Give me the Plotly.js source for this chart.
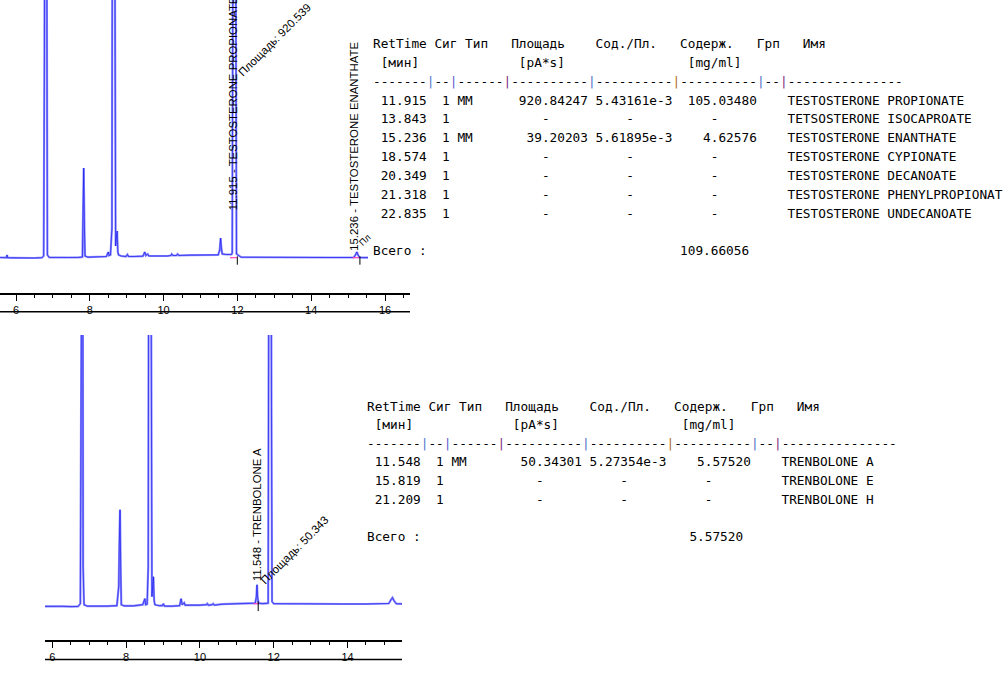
<!DOCTYPE html>
<html><head><meta charset="utf-8">
<script src="https://cdn.plot.ly/plotly-3.0.1.min.js"></script>
<style>html,body{margin:0;padding:0;background:#fff}</style>
</head><body><div id="chart" style="width:1003px;height:687px"></div>
<script>
// ---------- chromatogram 1 (testosterone esters) ----------
const topTime = [5.55,5.62,5.70,5.745,5.757,5.77,5.9,6.1,6.3,6.5,6.7,6.75,6.77,6.79,6.82,6.835,6.85,6.9,7.1,7.4,7.7,7.8,7.815,7.835,7.855,7.87,7.95,8.2,8.45,8.49,8.5,8.52,8.56,8.6,8.62,8.66,8.685,8.70,8.72,8.74,8.76,8.78,8.85,8.98,9.02,9.05,9.2,9.44,9.49,9.52,9.55,9.57,9.6,9.8,10.1,10.2,10.22,10.25,10.35,10.38,10.41,10.7,11.0,11.3,11.48,11.52,11.545,11.565,11.59,11.7,11.84,11.86,11.875,11.895,11.935,11.955,11.975,12.1,12.6,13.2,13.8,14.4,15.0,15.15,15.2,15.236,15.27,15.31,15.4,15.54];
const topSignal = [0.5,0.2,0.4,0.3,3,0.3,0.2,0,0.2,0,0.3,2,200,600,600,30,3,0.6,0.3,0.5,0.6,1,40,90,30,2,0.8,1,1.5,5,6,2.5,3,30,600,600,40,12,20,27,6,3,2,1.5,3.5,1.5,1.5,1.8,6,2.5,3.5,4,2,1.8,2,2.5,4,2.5,2.5,4,2.5,2.8,3,3,3.2,8,20,10,4,3.5,3.5,5,300,600,600,300,4,0.8,0.6,0.5,0.6,0.5,0.5,0.5,3,6,3,0.5,0.4,0.4];
const topIntegStart = [11.80, 15.12];
const topIntegEnd = [11.98, 15.30];
const topPeakMarks = [11.997, 15.32];
const topAreaLabel = ['920.539'];

// ---------- chromatogram 2 (trenbolone) ----------
const botTime = [5.80,5.95,6.1,6.3,6.5,6.7,6.76,6.78,6.80,6.82,6.835,6.86,6.95,7.2,7.5,7.75,7.8,7.815,7.835,7.855,7.87,7.95,8.2,8.45,8.49,8.51,8.53,8.57,8.6,8.62,8.66,8.685,8.70,8.72,8.74,8.76,8.78,8.9,8.98,9.01,9.04,9.25,9.45,9.49,9.52,9.55,9.575,9.6,9.8,10.0,10.18,10.2,10.23,10.33,10.36,10.39,10.6,10.8,11.1,11.4,11.5,11.53,11.548,11.565,11.59,11.7,11.85,11.865,11.88,11.92,11.94,11.955,12.0,12.4,12.8,13.3,13.9,14.5,15.0,15.12,15.18,15.22,15.26,15.32,15.48];
const botSignal = [0.3,0.5,0.2,0.4,0.1,0.3,3,300,600,600,40,2,0.5,0.3,0.6,1,20,60,97,35,2,0.8,0.8,2,7,8,2,2.5,40,600,600,50,10,20,30,6,2,1,1,3,0.6,0.5,1,8,2,3,4,1.5,1.2,1.5,2,3,1.5,2,3,1.5,2.5,2.7,2.8,3,3.5,10,22,9,3.5,3,3.5,300,600,600,200,5,3,2.8,2.6,2.7,2.7,2.7,2.8,3.2,7,9,6,3,2.8];
const botIntegStart = [11.45];
const botIntegEnd = [11.60];
const botPeakMarks = [11.58];
const botAreaLabel = ['50.343'];

// ---------- table 1 ----------
const t1RetTime = ['11.915','13.843','15.236','18.574','20.349','21.318','22.835'];
const t1Sig = ['1','1','1','1','1','1','1'];
const t1Type = ['MM','','MM','','','',''];
const t1Area = ['920.84247','-','39.20203','-','-','-','-'];
const t1AmtArea = ['5.43161e-3','-','5.61895e-3','-','-','-','-'];
const t1Amount = ['105.03480','-','4.62576','-','-','-','-'];
const t1Name = ['TESTOSTERONE PROPIONATE','TETSOSTERONE ISOCAPROATE','TESTOSTERONE ENANTHATE','TESTOSTERONE CYPIONATE','TESTOSTERONE DECANOATE','TESTOSTERONE PHENYLPROPIONATE','TESTOSTERONE UNDECANOATE'];
const t1Total = '109.66056';

// ---------- table 2 ----------
const t2RetTime = ['11.548','15.819','21.209'];
const t2Sig = ['1','1','1'];
const t2Type = ['MM','',''];
const t2Area = ['50.34301','-','-'];
const t2AmtArea = ['5.27354e-3','-','-'];
const t2Amount = ['5.57520','-','-'];
const t2Name = ['TRENBOLONE A','TRENBOLONE E','TRENBOLONE H'];
const t2Total = '5.57520';

const headerLine = 'RetTime Сиг Тип   Площадь    Сод./Пл.   Содерж.   Грп   Имя';
const unitsLine  = ' [мин]             [pA*s]                [mg/ml]';
const dashGroups = [7,2,6,10,10,10,2,15];
const pipeColors = ['#4f78d0','#5a5ad0','#80307f','#4f6fc8','#b06a2a','#4f6fc8','#80307f'];

// ---------- helpers ----------
const W = 1003, H = 687;
const PX = x => x / W;
const PY = y => 1 - y / H;
const NB = s => s.replace(/ /g, '\u00A0');

function put(arr, col, str){ for(let i=0;i<str.length;i++) arr[col+i]=str[i]; }
function makeRow(ret, sig, typ, area, ratio, amt, name){
  const a = new Array(90).fill(' ');
  put(a, 1, ret);
  put(a, 9, sig);
  if (typ) put(a, 11, typ);
  if (area === '-') put(a, 22, '-'); else put(a, 28 - area.length, area);
  if (ratio === '-') put(a, 33, '-'); else put(a, 29, ratio);
  if (amt === '-') put(a, 44, '-'); else put(a, 50 - amt.length, amt);
  put(a, 54, name);
  return a.join('').replace(/\s+$/,'');
}
function totalLine(total){
  const a = new Array(60).fill(' ');
  put(a, 0, 'Всего :');
  put(a, 49 - total.length, total);
  return a.join('');
}
function dashLine(){
  let s = '';
  dashGroups.forEach((n,i)=>{
    s += '-'.repeat(n);
    if (i < pipeColors.length) s += '<span style="color:' + pipeColors[i] + '">|</span>';
  });
  return s;
}

const monoFont = {family:'DejaVu Sans Mono, monospace', size:12.75, color:'#000'};
const annotations = [];
function addTable(left, top, step, rows, total){
  const lines = [NB(headerLine), NB(unitsLine), dashLine()];
  rows.forEach(r => lines.push(NB(r)));
  lines.push('');
  lines.push(NB(total));
  lines.forEach((txt, i) => {
    if (!txt) return;
    annotations.push({xref:'paper', yref:'paper', x:PX(left), y:PY(top + step*i),
      xanchor:'left', yanchor:'middle', text:txt, showarrow:false,
      font:monoFont, borderpad:0, borderwidth:0});
  });
}
addTable(373, 43.5, 18.85,
  t1RetTime.map((r,i)=>makeRow(r,t1Sig[i],t1Type[i],t1Area[i],t1AmtArea[i],t1Amount[i],t1Name[i])),
  totalLine(t1Total));
addTable(366.5, 406, 18.65,
  t2RetTime.map((r,i)=>makeRow(r,t2Sig[i],t2Type[i],t2Area[i],t2AmtArea[i],t2Amount[i],t2Name[i])),
  totalLine(t2Total));

const labFont = {family:'Liberation Sans, Arial, sans-serif', size:11.4, color:'#000'};
// peak name labels (vertical)
annotations.push({xref:'x', yref:'paper', x:parseFloat(t1RetTime[0]), y:PY(211), xanchor:'center', yanchor:'bottom',
  textangle:-90, text:t1RetTime[0]+' - '+t1Name[0], showarrow:false, font:labFont, xshift:-1, borderpad:0});
annotations.push({xref:'x', yref:'paper', x:parseFloat(t1RetTime[2]), y:PY(252), xanchor:'center', yanchor:'bottom',
  textangle:-90, text:t1RetTime[2]+' - '+t1Name[2], showarrow:false, font:labFont, xshift:-2.5, borderpad:0});
annotations.push({xref:'x2', yref:'paper', x:parseFloat(t2RetTime[0]), y:PY(582), xanchor:'center', yanchor:'bottom',
  textangle:-90, text:t2RetTime[0]+' - '+t2Name[0], showarrow:false, font:labFont, xshift:-0.5, borderpad:0});
// area labels (diagonal)
annotations.push({xref:'x', yref:'paper', x:parseFloat(t1RetTime[0]), y:PY(40), xanchor:'center', yanchor:'middle',
  textangle:-45, text:'Площадь: '+topAreaLabel[0], showarrow:false, font:labFont, xshift:40, borderpad:0});
annotations.push({xref:'x2', yref:'paper', x:parseFloat(t2RetTime[0]), y:PY(550), xanchor:'center', yanchor:'middle',
  textangle:-45, text:'Площадь: '+botAreaLabel[0], showarrow:false, font:labFont, xshift:37.5, borderpad:0});
annotations.push({xref:'x', yref:'paper', x:parseFloat(t1RetTime[2]), y:PY(240), xanchor:'center', yanchor:'middle',
  textangle:-45, text:'Пл', showarrow:false, font:{family:'Liberation Sans, Arial', size:9, color:'#000'}, xshift:8, borderpad:0});

// ---------- traces ----------
const light = 'rgb(140,140,255)', dark = 'rgb(10,10,235)';
function integSegs(s, e){ const x=[], y=[]; s.forEach((v,i)=>{x.push(v,e[i],null); y.push(0.3,0.3,null);}); return {x,y}; }
const ti = integSegs(topIntegStart, topIntegEnd), bi = integSegs(botIntegStart, botIntegEnd);
const data = [
  {x:topTime, y:topSignal, xaxis:'x', yaxis:'y', mode:'lines', line:{color:light, width:2.2}, hoverinfo:'skip'},
  {x:topTime, y:topSignal, xaxis:'x', yaxis:'y', mode:'lines', line:{color:dark, width:0.8}, opacity:0.75, hoverinfo:'skip'},
  {x:ti.x, y:ti.y, xaxis:'x', yaxis:'y', mode:'lines', line:{color:'#ff40c0', width:1.2}, hoverinfo:'skip'},
  {x:topPeakMarks, y:topPeakMarks.map(()=>-2.5), xaxis:'x', yaxis:'y', mode:'markers',
    marker:{symbol:'line-ns', size:6, line:{color:'#000', width:1}}, hoverinfo:'skip'},
  {x:botTime, y:botSignal, xaxis:'x2', yaxis:'y2', mode:'lines', line:{color:light, width:2.2}, hoverinfo:'skip'},
  {x:botTime, y:botSignal, xaxis:'x2', yaxis:'y2', mode:'lines', line:{color:dark, width:0.8}, opacity:0.75, hoverinfo:'skip'},
  {x:bi.x, y:bi.y.map(v=>v+2.7), xaxis:'x2', yaxis:'y2', mode:'lines', line:{color:'#ff40c0', width:1.2}, hoverinfo:'skip'},
  {x:botPeakMarks, y:botPeakMarks.map(()=>0.5), xaxis:'x2', yaxis:'y2', mode:'markers',
    marker:{symbol:'line-ns', size:7, line:{color:'#000', width:1}}, hoverinfo:'skip'}
];

const axisCommon = {showline:true, linecolor:'#000', linewidth:1.5, ticks:'outside', ticklen:6, tickwidth:1, tickcolor:'#000',
  tick0:0, dtick:2, minor:{dtick:0.5, ticks:'outside', ticklen:3, tickcolor:'#000', tickwidth:1},
  showgrid:false, zeroline:false, fixedrange:true,
  tickfont:{family:'Liberation Sans, Arial, sans-serif', size:11, color:'#000'}};

const layout = {
  width:W, height:H, margin:{l:0,r:0,t:0,b:0}, paper_bgcolor:'#fff', plot_bgcolor:'rgba(0,0,0,0)', showlegend:false,
  xaxis: Object.assign({}, axisCommon, {domain:[0, 410/W], range:[5.5664, 16.677], anchor:'y'}),
  yaxis: {domain:[PY(293), 1], range:[-35, 258], visible:false, fixedrange:true},
  xaxis2: Object.assign({}, axisCommon, {domain:[45/W, 402/W], range:[5.802, 15.477], anchor:'y2'}),
  yaxis2: {domain:[PY(640), PY(335)], range:[-33.3, 271.7], visible:false, fixedrange:true},
  shapes: [
    {type:'line', xref:'paper', yref:'paper', x0:0, x1:410/W, y0:PY(311.7), y1:PY(311.7), line:{color:'#000', width:1.5}},
    {type:'line', xref:'paper', yref:'paper', x0:45/W, x1:402/W, y0:PY(659.5), y1:PY(659.5), line:{color:'#000', width:1.5}}
  ],
  annotations: annotations
};
Plotly.newPlot('chart', data, layout, {staticPlot:true, displayModeBar:false});
</script></body></html>
